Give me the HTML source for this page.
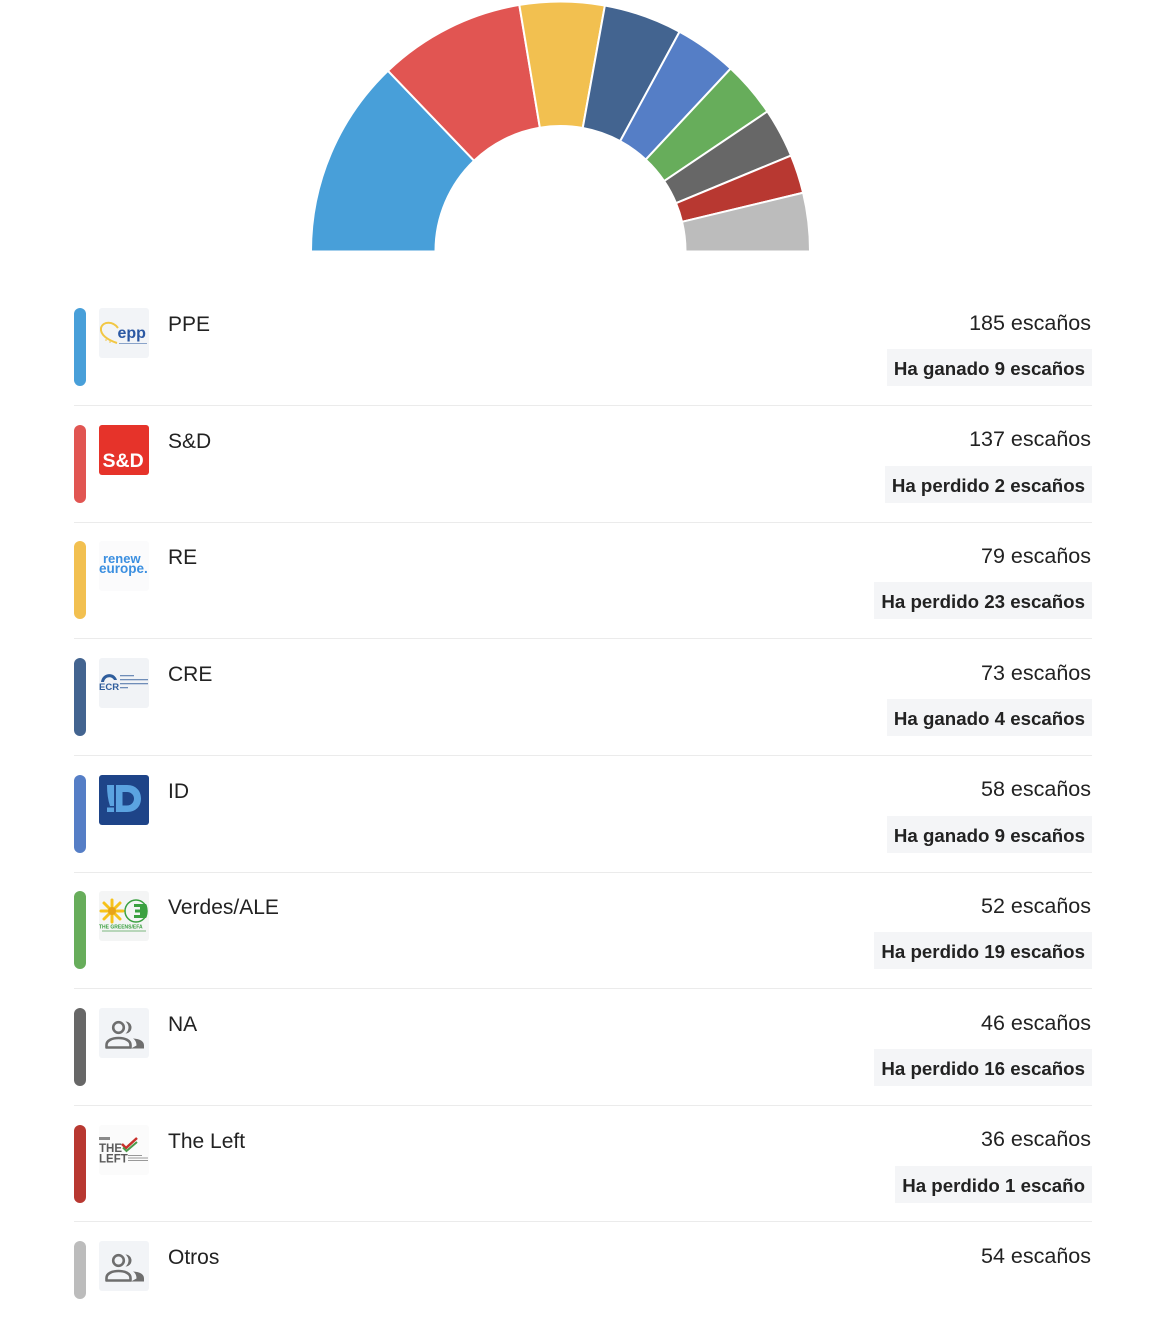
<!DOCTYPE html>
<html>
<head>
<meta charset="utf-8">
<style>
  html, body { margin:0; padding:0; background:#ffffff; }
  body { width:1170px; height:1334px; position:relative; overflow:hidden;
         font-family:"Liberation Sans", Arial, sans-serif; color:#222; }
  .chart { position:absolute; left:0; top:0; }
  .row { position:absolute; left:0; width:1170px; height:100px; }
  .bar { position:absolute; left:74px; top:0; width:12px; height:78px; border-radius:6px; }
  .logo { position:absolute; left:99px; top:0; width:50px; height:50px; border-radius:3px; overflow:hidden; }
  .logo svg { display:block; }
  .name { position:absolute; left:168px; top:5px; font-size:21px; line-height:24px; white-space:nowrap; color:#222; }
  .count { position:absolute; right:79px; top:2.5px; font-size:21.5px; line-height:24px; white-space:nowrap; color:#222; }
  .badge { position:absolute; right:78px; top:41px; height:37px; box-sizing:border-box; padding:3px 7px 0 7px;
           background:#f4f5f7; font-weight:bold; font-size:18.7px; line-height:34px; white-space:nowrap; color:#222; }
  .sep { position:absolute; left:74px; width:1018px; height:1px; background:#ebebeb; }
</style>
</head>
<body>

<svg class="chart" width="1170" height="260" viewBox="0 0 1170 260">
  <g stroke="#ffffff" stroke-width="2" stroke-linejoin="miter">
    <path fill="#489fd9" d="M311,251.5 A249.5,249.5 0 0 1 387.97,70.77 L474.06,160.70 A125,125 0 0 0 435.5,251.5 Z"/>
    <path fill="#e15552" d="M387.97,70.77 A249.5,249.5 0 0 1 519.32,4.92 L539.87,127.71 A125,125 0 0 0 474.06,160.70 Z"/>
    <path fill="#f2c050" d="M519.32,4.92 A249.5,249.5 0 0 1 604.90,5.48 L582.74,127.99 A125,125 0 0 0 539.87,127.71 Z"/>
    <path fill="#436490" d="M604.90,5.48 A249.5,249.5 0 0 1 679.55,31.73 L620.15,141.15 A125,125 0 0 0 582.74,127.99 Z"/>
    <path fill="#557ec6" d="M679.55,31.73 A249.5,249.5 0 0 1 730.66,68.53 L645.75,159.58 A125,125 0 0 0 620.15,141.15 Z"/>
    <path fill="#67ad5b" d="M730.66,68.53 A249.5,249.5 0 0 1 767.35,111.48 L664.13,181.10 A125,125 0 0 0 645.75,159.58 Z"/>
    <path fill="#676767" d="M767.35,111.48 A249.5,249.5 0 0 1 791.01,155.52 L675.99,203.16 A125,125 0 0 0 664.13,181.10 Z"/>
    <path fill="#b83831" d="M791.01,155.52 A249.5,249.5 0 0 1 803.11,192.75 L682.05,221.82 A125,125 0 0 0 675.99,203.16 Z"/>
    <path fill="#bcbcbc" d="M803.11,192.75 A249.5,249.5 0 0 1 810,251.5 L685.5,251.5 A125,125 0 0 0 682.05,221.82 Z"/>
  </g>
</svg>

<!-- PPE -->
<div class="row" style="top:308px;">
  <div class="bar" style="background:#489fd9;"></div>
  <div class="logo" style="background:#f2f4f7;">
    <svg width="50" height="50" viewBox="0 0 50 50">
      <path d="M19,20 C14,13 4,13 2,20 C1,27 9,32 18,35" fill="none" stroke="#f2c744" stroke-width="2"/>
      <circle cx="7" cy="32" r="0.8" fill="#f2c744"/><circle cx="11" cy="34" r="0.8" fill="#f2c744"/>
      <text x="18.5" y="30" font-family="Liberation Sans, Arial, sans-serif" font-weight="bold" font-size="16" fill="#2b58a3">epp</text>
      <rect x="20" y="35" width="28" height="1" fill="#8aa3c9"/>
    </svg>
  </div>
  <div class="name">PPE</div>
  <div class="count">185 escaños</div>
  <div class="badge">Ha ganado 9 escaños</div>
</div>
<div class="sep" style="top:405px;"></div>

<!-- S&D -->
<div class="row" style="top:424.67px;">
  <div class="bar" style="background:#e15552;"></div>
  <div class="logo" style="background:#e6332a;">
    <svg width="50" height="50" viewBox="0 0 50 50">
      <text x="3.5" y="42" font-family="Liberation Sans, Arial, sans-serif" font-weight="bold" font-size="19.5" fill="#ffffff">S&amp;D</text>
    </svg>
  </div>
  <div class="name">S&amp;D</div>
  <div class="count">137 escaños</div>
  <div class="badge">Ha perdido 2 escaños</div>
</div>
<div class="sep" style="top:521.67px;"></div>

<!-- RE -->
<div class="row" style="top:541.33px;">
  <div class="bar" style="background:#f2c050;"></div>
  <div class="logo" style="background:#fbfbfc;">
    <svg width="50" height="50" viewBox="0 0 50 50">
      <text x="4" y="22" font-family="Liberation Sans, Arial, sans-serif" font-weight="bold" font-size="13" fill="#3b8fe0">renew</text>
      <text x="0" y="32" font-family="Liberation Sans, Arial, sans-serif" font-weight="bold" font-size="13.5" fill="#3b8fe0">europe.</text>
    </svg>
  </div>
  <div class="name">RE</div>
  <div class="count">79 escaños</div>
  <div class="badge">Ha perdido 23 escaños</div>
</div>
<div class="sep" style="top:638.33px;"></div>

<!-- CRE -->
<div class="row" style="top:658px;">
  <div class="bar" style="background:#436490;"></div>
  <div class="logo" style="background:#f1f3f6;">
    <svg width="50" height="50" viewBox="0 0 50 50">
      <path d="M2,24 C3,15 15,13 18,22 L15,22 C13,18 6,18 5,24 Z" fill="#2f5d9c"/>
      <text x="0" y="32" font-family="Liberation Sans, Arial, sans-serif" font-weight="bold" font-size="9.5" fill="#2f5d9c">ECR</text>
      <rect x="21" y="17" width="14" height="1.3" fill="#6f8db8"/>
      <rect x="21" y="21" width="28" height="1.3" fill="#6f8db8"/>
      <rect x="21" y="25" width="28" height="1.3" fill="#6f8db8"/>
      <rect x="21" y="29" width="8" height="1.3" fill="#6f8db8"/>
    </svg>
  </div>
  <div class="name">CRE</div>
  <div class="count">73 escaños</div>
  <div class="badge">Ha ganado 4 escaños</div>
</div>
<div class="sep" style="top:755px;"></div>

<!-- ID -->
<div class="row" style="top:774.67px;">
  <div class="bar" style="background:#557ec6;"></div>
  <div class="logo" style="background:#1e4488;">
    <svg width="50" height="50" viewBox="0 0 50 50">
      <path d="M8,10 L15,10 L15,31 L11,31 Q8,22 8,10 Z" fill="#5ba3e0"/>
      <rect x="8" y="32.5" width="7" height="4.5" fill="#5ba3e0"/>
      <path fill-rule="evenodd" fill="#5ba3e0" d="M17,10 L28,10 C37,10 42,16 42,23.5 C42,31 37,37 28,37 L17,37 Z M23.5,17 L28,17 C32,17 35,20 35,23.5 C35,27.5 32,30.5 28,30.5 L23.5,30.5 Z"/>
    </svg>
  </div>
  <div class="name">ID</div>
  <div class="count">58 escaños</div>
  <div class="badge">Ha ganado 9 escaños</div>
</div>
<div class="sep" style="top:871.67px;"></div>

<!-- Verdes/ALE -->
<div class="row" style="top:891.33px;">
  <div class="bar" style="background:#67ad5b;"></div>
  <div class="logo" style="background:#f4f5f5;">
    <svg width="50" height="50" viewBox="0 0 50 50">
      <g stroke="#f6c21a" stroke-width="3" stroke-linecap="round">
        <line x1="13" y1="20" x2="13" y2="9"/>
        <line x1="13" y1="20" x2="21" y2="12"/>
        <line x1="13" y1="20" x2="24" y2="20"/>
        <line x1="13" y1="20" x2="21" y2="28"/>
        <line x1="13" y1="20" x2="13" y2="31"/>
        <line x1="13" y1="20" x2="5" y2="28"/>
        <line x1="13" y1="20" x2="2" y2="20"/>
        <line x1="13" y1="20" x2="5" y2="12"/>
      </g>
      <circle cx="13" cy="20" r="4" fill="#e8a417"/>
      <circle cx="37" cy="20" r="11" fill="none" stroke="#3aa040" stroke-width="1.5"/>
      <path d="M35,13 L47,13 C49,15 49,25 47,27 L35,27 L35,24 L41,24 L41,21.5 L36,21.5 L36,18.5 L41,18.5 L41,16 L35,16 Z" fill="#3aa040"/>
      <text x="0" y="37.5" font-family="Liberation Sans, Arial, sans-serif" font-weight="bold" font-size="5" fill="#3aa040">THE GREENS/EFA</text>
      <rect x="3" y="39.5" width="44" height="1" fill="#7bb87f"/>
    </svg>
  </div>
  <div class="name">Verdes/ALE</div>
  <div class="count">52 escaños</div>
  <div class="badge">Ha perdido 19 escaños</div>
</div>
<div class="sep" style="top:988.33px;"></div>

<!-- NA -->
<div class="row" style="top:1008px;">
  <div class="bar" style="background:#676767;"></div>
  <div class="logo" style="background:#f2f4f7;">
    <svg width="50" height="50" viewBox="0 0 50 50">
      <path d="M26.5,13.5 A6,6 0 0 1 26.5,25.5 A7.5,7.5 0 0 0 26.5,13.5 Z" fill="#6e6e6e"/>
      <path d="M32,40.5 L45,40.5 L45,37.5 C45,33 41,31 34,30.5 C36.5,32 37.5,34.5 37.5,37.5 Z" fill="#6e6e6e"/>
      <circle cx="19.5" cy="19.5" r="5.3" fill="none" stroke="#6e6e6e" stroke-width="2.6"/>
      <path d="M7.5,39.5 L7.5,37 C7.5,32.5 13,30 19.5,30 C26,30 31.5,32.5 31.5,37 L31.5,39.5 Z" fill="none" stroke="#6e6e6e" stroke-width="2.6" stroke-linejoin="round"/>
    </svg>
  </div>
  <div class="name">NA</div>
  <div class="count">46 escaños</div>
  <div class="badge">Ha perdido 16 escaños</div>
</div>
<div class="sep" style="top:1105px;"></div>

<!-- The Left -->
<div class="row" style="top:1124.67px;">
  <div class="bar" style="background:#b83831;"></div>
  <div class="logo" style="background:#fbfbfb;">
    <svg width="50" height="50" viewBox="0 0 50 50">
      <rect x="0" y="12" width="11" height="3" fill="#8a8a8a"/>
      <text x="0" y="27" font-family="Liberation Sans, Arial, sans-serif" font-weight="bold" font-size="11.5" fill="#5a5a5a">THE</text>
      <text x="0" y="37.5" font-family="Liberation Sans, Arial, sans-serif" font-weight="bold" font-size="11.5" fill="#5a5a5a">LEFT</text>
      <path d="M23,19 L27,23 L38,13" fill="none" stroke="#c8302b" stroke-width="2.5"/>
      <path d="M24,22.5 L27.5,26 L38,17" fill="none" stroke="#4a9a4a" stroke-width="2"/>
      <rect x="29" y="30" width="14" height="1" fill="#999"/>
      <rect x="29" y="32.5" width="20" height="1" fill="#999"/>
      <rect x="29" y="35" width="20" height="1" fill="#999"/>
    </svg>
  </div>
  <div class="name">The Left</div>
  <div class="count">36 escaños</div>
  <div class="badge">Ha perdido 1 escaño</div>
</div>
<div class="sep" style="top:1221px;"></div>

<!-- Otros -->
<div class="row" style="top:1241.33px;">
  <div class="bar" style="background:#bcbcbc; height:58px;"></div>
  <div class="logo" style="background:#f2f4f7;">
    <svg width="50" height="50" viewBox="0 0 50 50">
      <path d="M26.5,13.5 A6,6 0 0 1 26.5,25.5 A7.5,7.5 0 0 0 26.5,13.5 Z" fill="#6e6e6e"/>
      <path d="M32,40.5 L45,40.5 L45,37.5 C45,33 41,31 34,30.5 C36.5,32 37.5,34.5 37.5,37.5 Z" fill="#6e6e6e"/>
      <circle cx="19.5" cy="19.5" r="5.3" fill="none" stroke="#6e6e6e" stroke-width="2.6"/>
      <path d="M7.5,39.5 L7.5,37 C7.5,32.5 13,30 19.5,30 C26,30 31.5,32.5 31.5,37 L31.5,39.5 Z" fill="none" stroke="#6e6e6e" stroke-width="2.6" stroke-linejoin="round"/>
    </svg>
  </div>
  <div class="name">Otros</div>
  <div class="count">54 escaños</div>
</div>

</body>
</html>
